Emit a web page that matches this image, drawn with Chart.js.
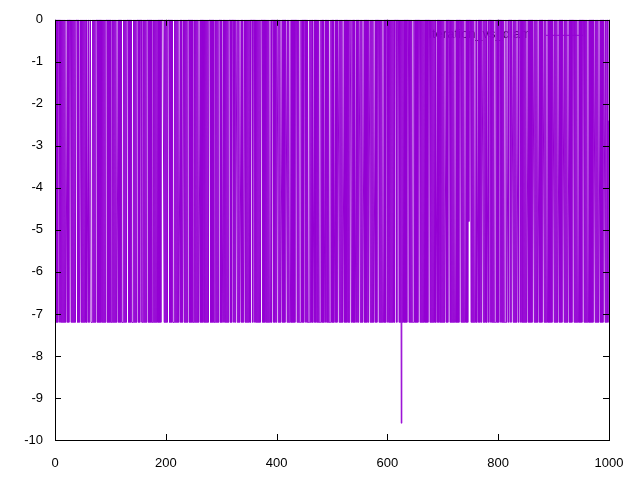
<!DOCTYPE html>
<html>
<head>
<meta charset="utf-8">
<script src="https://cdn.jsdelivr.net/npm/chart.js@4.4.1/dist/chart.umd.min.js"></script>
<style>
  html, body { margin: 0; padding: 0; background: #fff; }
  #plot { display: block; }
</style>
</head>
<body>
<canvas id="plot" width="640" height="480"></canvas>
<script>
// Tick labels
const xTicks = [0, 200, 400, 600, 800, 1000];
const yTicks = [0, -1, -2, -3, -4, -5, -6, -7, -8, -9, -10];
const legendLabel = 'Iteration_vs_diam';

// Series values, one per sample 0..999
const series = [
  0,-7.2,0,-7.2,0,-7.2,0,
  0, 0,-7.2,0,-7.2,0,-7.2,0,-7.2,0,-7.2,0,-7.2,
  -7.2, -7.2,0,-7.2,0,-7.2,0,
  0, 0,-7.2,0,-7.2,0,-7.2,0,-7.2,0,-7.2,0,
  0, 0,-7.2,0,-7.2,
  -7.2, -7.2,0,-7.2,0,-7.2,0,-7.2,0,-7.2,0,-7.2,0,-7.2,
  -7.2, -7.2,0,-7.2,
  -7.2, -7.2,0,-7.2,
  -7.2, -7.2,0,-7.2,0,-7.2,0,-7.2,0,
  0, 0,-7.2,0,-7.2,0,-7.2,0,-7.2,0,-7.2,0,-7.2,0,-7.2,0,-7.2,0,
  0, 0,-7.2,0,-7.2,0,-7.2,0,-7.2,
  -7.2, -7.2,0,-7.2,0,-7.2,0,-7.2,0,-7.2,
  -7.2, -7.2,0,-7.2,0,-7.2,0,-7.2,0,-7.2,
  -7.2, -7.2,0,-7.2,0,-7.2,0,-7.2,0,
  0, 0,-7.2,0,-7.2,0,-7.2,0,-7.2,
  -7.2, -7.2,0,-7.2,0,-7.2,0,-7.2,0,
  0, 0,-7.2,0,-7.2,0,
  0, 0,-7.2,
  -7.2, -7.2,0,-7.2,0,-7.2,0,-7.2,0,
  0, 0,-7.2,0,-7.2,0,-7.2,0,-7.2,
  -7.2, -7.2,0,-7.2,0,-7.2,0,-7.2,0,-7.2,0,-7.2,0,-7.2,0,-7.2,0,
  0, 0,
  0, 0,-7.2,0,-7.2,0,-7.2,0,-7.2,0,
  0, 0,-7.2,0,-7.2,0,-7.2,0,-7.2,
  -7.2, -7.2,0,-7.2,0,-7.2,0,-7.2,0,-7.2,
  -7.2, -7.2,0,-7.2,0,-7.2,
  -7.2, -7.2,0,-7.2,0,-7.2,0,-7.2,0,-7.2,0,
  0, 0,-7.2,0,-7.2,0,-7.2,0,-7.2,
  -7.2, -7.2,0,-7.2,0,-7.2,0,-7.2,0,-7.2,
  -7.2, -7.2,0,-7.2,0,-7.2,0,-7.2,0,-7.2,0,-7.2,0,-7.2,0,-7.2,0,-7.2,0,
  0, 0,-7.2,0,-7.2,0,-7.2,0,-7.2,
  -7.2, -7.2,0,-7.2,0,-7.2,0,-7.2,0,
  0, 0,-7.2,0,-7.2,
  -7.2, -7.2,0,-7.2,0,-7.2,0,-7.2,0,-7.2,0,-7.2,0,
  0, 0,-7.2,0,-7.2,0,
  0, 0,-7.2,0,-7.2,0,
  0, 0,-7.2,0,-7.2,0,-7.2,
  -7.2, -7.2,0,-7.2,0,-7.2,
  -7.2, -7.2,0,-7.2,0,-7.2,0,-7.2,0,-7.2,0,-7.2,0,-7.2,0,
  0, 0,-7.2,0,
  0, 0,-7.2,0,-7.2,0,-7.2,0,-7.2,0,-7.2,0,-7.2,0,
  0, 0,-7.2,0,-7.2,0,-7.2,0,-7.2,0,-7.2,0,-7.2,0,-7.2,
  -7.2, -7.2,0,-7.2,0,
  0, 0,-7.2,0,-7.2,0,-7.2,0,
  0, 0,-7.2,0,-7.2,0,-7.2,
  -7.2, -7.2,0,-7.2,0,-7.2,0,-7.2,0,
  0, 0,-7.2,0,-7.2,0,-7.2,
  -7.2, -7.2,0,-7.2,0,-7.2,0,-7.2,0,-7.2,0,
  0, 0,-7.2,0,-7.2,0,-7.2,
  -7.2, -7.2,0,-7.2,0,-7.2,0,-7.2,0,
  0, 0,-7.2,0,-7.2,0,-7.2,
  -7.2, -7.2,0,-7.2,0,-7.2,0,-7.2,
  -7.2, -7.2,0,-7.2,0,-7.2,0,-7.2,0,-7.2,0,-7.2,
  -7.2, -7.2,0,-7.2,0,-7.2,0,-7.2,
  -7.2, -7.2,0,-7.2,0,-7.2,0,-7.2,0,-7.2,
  -7.2, -7.2,0,-7.2,0,-7.2,0,-7.2,
  -7.2, -7.2,0,-7.2,0,-7.2,0,
  0, 0,-7.2,0,-7.2,0,-7.2,0,-7.2,
  -7.2, -7.2,0,-7.2,0,-7.2,0,-7.2,0,-7.2,0,-7.2,0,
  0, 0,-7.2,0,-7.2,0,-7.2,0,-7.2,
  -7.2, -7.2,0,-7.2,0,-7.2,0,
  0, 0,-7.2,0,-7.2,0,-7.2,
  -7.2, -7.2,0,-7.2,0,-7.2,0,-7.2,0,-7.2,0,
  0, 0,-7.2,0,-7.2,0,-7.2,0,-7.2,
  -7.2, -7.2,0,-7.2,0,-7.2,0,
  0, 0,-7.2,0,-7.2,0,-7.2,0,-7.2,
  -7.2, -7.2,0,-7.2,0,-7.2,0,
  0, 0,-7.2,0,-7.2,0,-7.2,0,-7.2,0,-7.2,0,-7.2,0,-7.2,0,
  0, 0,-7.2,0,
  0, 0,-7.2,0,-7.2,0,-9.6,0,-7.2,0,-7.2,0,-7.2,0,-7.2,0,-7.2,0,
  0, 0,-7.2,0,-7.2,0,-7.2,0,-7.2,
  -7.2, -7.2,0,-7.2,0,-7.2,0,-7.2,0,-7.2,0,
  0, 0,-7.2,0,-7.2,0,-7.2,0,-7.2,0,-7.2,0,-7.2,0,-7.2,0,-7.2,0,
  0, 0,-7.2,0,-7.2,0,-7.2,0,-7.2,0,-7.2,0,-7.2,
  -7.2, -7.2,0,-7.2,0,-7.2,0,-7.2,0,-7.2,0,-7.2,0,-7.2,0,-7.2,
  -7.2, -7.2,0,-7.2,0,-7.2,0,
  0, 0,-7.2,0,-7.2,0,-7.2,0,-7.2,0,-7.2,
  -7.2, -7.2,0,-7.2,0,-7.2,0,-7.2,0,
  0, 0,-7.2,0,-7.2,0,-7.2,0,-7.2,
  -7.2, -7.2,0,-7.2,0,-7.2,0,-4.8,0,
  0, 0,-7.2,0,-7.2,0,-7.2,0,-7.2,
  -7.2, -7.2,0,-7.2,
  -7.2, -7.2,0,-7.2,0,-7.2,0,-7.2,0,
  0, 0,-7.2,0,-7.2,0,-7.2,0,-7.2,
  -7.2, -7.2,0,-7.2,0,
  0, 0,-7.2,0,-7.2,0,-7.2,0,-7.2,
  -7.2, -7.2,0,-7.2,0,-7.2,0,-7.2,0,
  0, 0,-7.2,0,-7.2,0,-7.2,0,-7.2,
  -7.2, -7.2,0,-7.2,
  -7.2, -7.2,0,-7.2,0,
  0, 0,-7.2,0,
  0, 0,-7.2,0,-7.2,0,-7.2,0,-7.2,
  -7.2, -7.2,0,-7.2,0,
  0, 0,-7.2,0,-7.2,0,-7.2,0,-7.2,0,-7.2,0,-7.2,
  -7.2, -7.2,0,-7.2,0,-7.2,0,-7.2,0,-7.2,0,
  0, 0,-7.2,0,-7.2,0,-7.2,0,-7.2,
  -7.2, -7.2,0,-7.2,0,-7.2,0,-7.2,0,
  0, 0,-7.2,0,-7.2,0,-7.2,
  -7.2, -7.2,0,-7.2,0,-7.2,0,-7.2,0,-7.2,0,
  0, 0,-7.2,0,-7.2,0,-7.2,0,-7.2,
  -7.2, -7.2,0,-7.2,0,-7.2,0,-7.2,0,
  0, 0,-7.2,0,-7.2,0,-7.2,0,-7.2,
  -7.2, -7.2,0,-7.2,0,-7.2,0,-7.2,0,
  0, 0,-7.2,0,-7.2,0,-7.2,0,-7.2,
  -7.2, -7.2,0,-7.2,0,-7.2,0,-7.2,0,
  0, 0,-7.2,0,-7.2,0,-7.2,0,-7.2,
  -7.2, -7.2,0,-7.2,0,-7.2,0,-7.2,0,-7.2,0,
  0, 0,-7.2,0,-7.2,0,-7.2,0,-7.2,
  -7.2, -7.2,0,-7.2,0,-7.2,0,-7.2,0,
  0, 0,-7.2,0,-7.2,0,0,-7.2,-2.4
];

const lineColor = '#9400d3';
const tickFont = { family: 'Liberation Sans, Arial, sans-serif', size: 13 };

// gnuplot style frame: full border, inward ticks on all four sides, key under the data
const gnuplotFrame = {
  id: 'gnuplotFrame',
  beforeDatasetsDraw(chart) {
    const { ctx, chartArea: a } = chart;
    ctx.save();
    ctx.font = '13px Liberation Sans, Arial, sans-serif';
    ctx.fillStyle = '#000';
    ctx.textAlign = 'right';
    ctx.textBaseline = 'middle';
    ctx.fillText(legendLabel, a.right - 78, a.top + 15);
    ctx.strokeStyle = lineColor;
    ctx.lineWidth = 1;
    ctx.beginPath();
    ctx.moveTo(a.right - 63, a.top + 15.5);
    ctx.lineTo(a.right - 26, a.top + 15.5);
    ctx.stroke();
    ctx.restore();
  },
  afterDraw(chart) {
    const { ctx, chartArea: a, scales } = chart;
    const len = 6;
    ctx.save();
    ctx.strokeStyle = '#000';
    ctx.lineWidth = 1;
    ctx.beginPath();
    xTicks.forEach(v => {
      const x = Math.round(scales.x.getPixelForValue(v)) + 0.5;
      ctx.moveTo(x, a.bottom); ctx.lineTo(x, a.bottom - len);
      ctx.moveTo(x, a.top); ctx.lineTo(x, a.top + len);
    });
    yTicks.forEach(v => {
      const y = Math.round(scales.y.getPixelForValue(v)) + 0.5;
      ctx.moveTo(a.left, y); ctx.lineTo(a.left + len, y);
      ctx.moveTo(a.right, y); ctx.lineTo(a.right - len, y);
    });
    ctx.stroke();
    ctx.strokeRect(Math.round(a.left) + 0.5, Math.round(a.top) + 0.5,
      Math.round(a.right - a.left), Math.round(a.bottom - a.top));
    ctx.restore();
  }
};

new Chart(document.getElementById('plot').getContext('2d'), {
  type: 'line',
  data: {
    datasets: [{
      label: legendLabel,
      data: series.map((v, i) => ({ x: i, y: v })),
      borderColor: lineColor,
      borderWidth: 1,
      pointRadius: 0,
      tension: 0,
      fill: false
    }]
  },
  options: {
    responsive: false,
    animation: false,
    events: [],
    layout: { padding: { top: 18, right: 31, left: 0, bottom: 0 } },
    plugins: { legend: { display: false }, tooltip: { enabled: false } },
    scales: {
      x: {
        type: 'linear',
        min: xTicks[0],
        max: xTicks[xTicks.length - 1],
        afterFit(scale) { scale.height = 40; },
        afterBuildTicks(scale) { scale.ticks = xTicks.map(v => ({ value: v })); },
        grid: { display: false, drawTicks: false },
        border: { display: false },
        ticks: { color: '#000', font: tickFont, padding: 16, maxRotation: 0,
          callback: v => String(v) }
      },
      y: {
        min: yTicks[yTicks.length - 1],
        max: yTicks[0],
        afterFit(scale) { scale.width = 55; },
        afterBuildTicks(scale) { scale.ticks = yTicks.map(v => ({ value: v })); },
        grid: { display: false, drawTicks: false },
        border: { display: false },
        ticks: { color: '#000', font: tickFont, padding: 12,
          callback: v => String(v) }
      }
    }
  },
  plugins: [gnuplotFrame]
});
</script>
</body>
</html>
